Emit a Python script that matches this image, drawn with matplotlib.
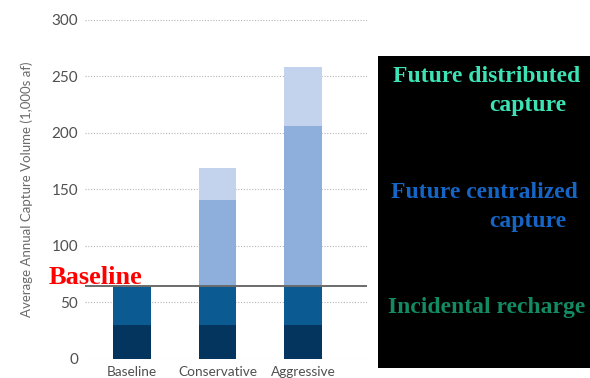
import matplotlib
matplotlib.use('Agg')
import matplotlib.pyplot as plt
import matplotlib.patches as patches
import numpy as np

# Сценарии и слои объёма улавливания (тыс. акрофутов)
scenarios = ['Baseline', 'Conservative', 'Aggressive']
incidental = [30, 30, 30]
existing = [35, 35, 35]
centralized = [0, 76, 141]
distributed = [0, 28, 52]
baseline_level = 65
y_ticks = [0, 50, 100, 150, 200, 250, 300]

layer_colors = ['#04355f', '#0b5a92', '#8eaedb', '#c3d3ed']

# Подписи слоёв: текст, цвет, x и y (в долях рисунка)
legend_lines = [
    ('Future distributed', '#3de3b4', 393, 77),
    ('capture', '#3de3b4', 489, 106),
    ('Future centralized', '#1565c4', 391, 193),
    ('capture', '#1565c4', 489, 222),
    ('Incidental recharge', '#128a62', 388, 308),
]

fig = plt.figure(figsize=(5.9, 3.78), dpi=100)
ax = fig.add_axes([0.144, 0.0503, 0.478, 0.897])

x = np.arange(len(scenarios))
width = 0.44
bottom = np.zeros(len(scenarios))
for values, color in zip([incidental, existing, centralized, distributed], layer_colors):
    ax.bar(x, values, width, bottom=bottom, color=color, edgecolor='none', zorder=2)
    bottom += np.array(values)

# Горизонтальная линия текущего уровня
ax.axhline(baseline_level, color='#6b6b6b', linewidth=1.4, zorder=3)

ax.set_xlim(-0.55, 2.75)
ax.set_ylim(0, 300)
ax.set_yticks(y_ticks)
ax.set_xticks(x)
ax.set_xticklabels(scenarios)
ax.grid(True, axis='y', color='#b5b5b5', linestyle=(0, (1, 1.5)), linewidth=0.8, zorder=0)
ax.tick_params(axis='x', length=0, labelsize=9.8, labelcolor='#505050', pad=5)
ax.tick_params(axis='y', length=0, labelsize=11, labelcolor='#505050', pad=5)
for s in ax.spines.values():
    s.set_visible(False)
for lbl in ax.get_xticklabels() + ax.get_yticklabels():
    lbl.set_family('Lato')
ax.set_ylabel('Average Annual Capture Volume (1,000s af)', fontsize=9.5,
              color='#6a6a6a', family='Lato', labelpad=13)

ax.text(-0.98, baseline_level + 1.5, 'Baseline', color='red', fontsize=19,
        fontweight='bold', family='Liberation Serif', va='baseline', ha='left')

# Чёрная панель с подписями слоёв
rect = patches.Rectangle((378 / 590, 10 / 378), 1.0, 312 / 378, transform=fig.transFigure,
                         facecolor='black', edgecolor='none', zorder=5)
fig.patches.append(rect)
for label, color, px, py in legend_lines:
    fig.text(px / 590, 1 - py / 378, label, color=color, fontsize=17, fontweight='bold',
             family='Liberation Serif', ha='left', va='center', zorder=6)

fig.savefig('out.png', dpi=100)
